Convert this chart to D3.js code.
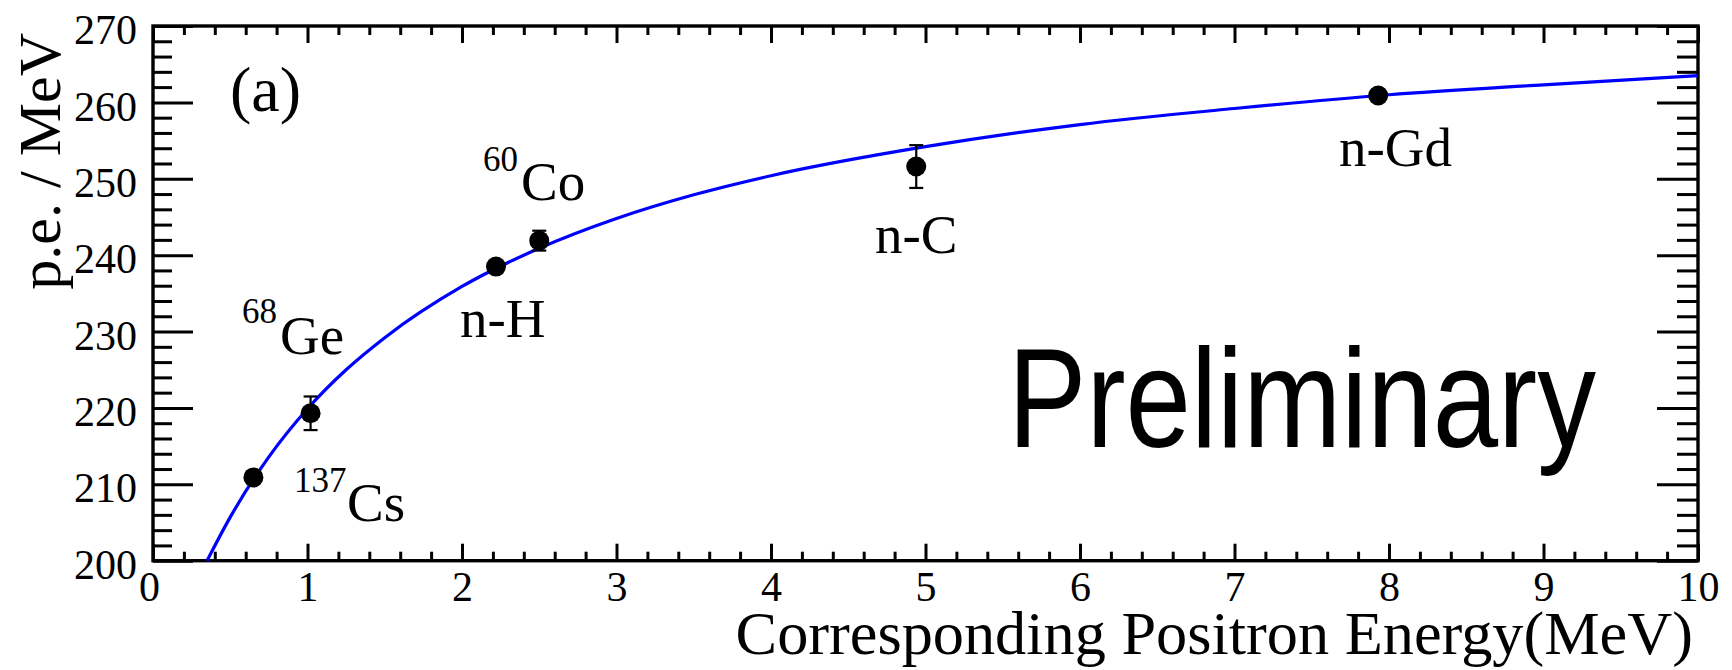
<!DOCTYPE html>
<html>
<head>
<meta charset="utf-8">
<script src="https://cdn.jsdelivr.net/npm/d3@7"></script>
<style>
  html, body { margin: 0; padding: 0; background: #fff; }
  svg { display: block; }
</style>
</head>
<body>
<script>
// ---------------- data ----------------
const sourceNames = ["137Cs", "68Ge", "n-H", "60Co", "n-C", "n-Gd"];
const positronEnergy = [0.65, 1.02, 2.22, 2.50, 4.94, 7.93];
const pePerMeV = [210.9, 219.3, 238.5, 241.9, 251.6, 260.9];
const pePerMeVErr = [0.4, 2.2, 0.5, 1.3, 2.8, 0.5];

// fitted curve
const fitEnergy = [0.35, 0.5, 0.75, 1.0, 1.25, 1.5, 2.0, 2.5, 3.0, 3.5, 4.0, 5.0, 6.0, 7.0, 8.0, 9.0, 10.0];
const fitPe     = [200.0, 205.7, 213.6, 219.9, 225.0, 229.2, 235.9, 240.9, 244.8, 247.9, 250.4, 254.2, 257.1, 259.2, 261.0, 262.3, 263.5];

const xTickValues = [0, 1, 2, 3, 4, 5, 6, 7, 8, 9, 10];
const yTickValues = [200, 210, 220, 230, 240, 250, 260, 270];
const xTitle = "Corresponding Positron Energy(MeV)";
const yTitle = "p.e. / MeV";
const panelLabel = "(a)";
const watermark = "Preliminary";

// point labels: superscript (mass number) and main text
const labelSup  = ["137", "68", "", "60", "", ""];
const labelMain = ["Cs", "Ge", "n-H", "Co", "n-C", "n-Gd"];

// ---------------- layout ----------------
const W = 1732, H = 670;
const svg = d3.select("body").append("svg").attr("width", W).attr("height", H);
svg.append("rect").attr("width", W).attr("height", H).attr("fill", "#fff");

const x = d3.scaleLinear().domain([0, 10]).range([153, 1698]);
const y = d3.scaleLinear().domain([200, 270]).range([560.7, 26]);

const serif = "'Liberation Serif', 'Times New Roman', serif";
const tickFont = 42;

const minorX = d3.range(0, 10.001, 0.2).map(v => +v.toFixed(2)).filter(v => Math.abs(v - Math.round(v)) > 1e-6);
const minorY = d3.range(200, 270.001, 2).filter(v => v % 10 !== 0);

function clean(g) {
  g.select(".domain").remove();
  g.selectAll(".tick line").attr("stroke", "#000").attr("stroke-width", 3);
  g.selectAll(".tick text").attr("font-family", serif).attr("font-size", tickFont).attr("fill", "#000");
}

// bottom axis
svg.append("g").attr("transform", `translate(0,${y(200)})`)
  .call(d3.axisBottom(x).tickValues(xTickValues).tickSize(-17).tickSizeOuter(0).tickPadding(10.5).tickFormat(d3.format("d")))
  .call(clean)
  .call(g => g.selectAll(".tick text").filter(d => d === 0).attr("dx", -4));
svg.append("g").attr("transform", `translate(0,${y(200)})`)
  .call(d3.axisBottom(x).tickValues(minorX).tickSize(-9).tickSizeOuter(0).tickFormat(""))
  .call(clean);
// top axis
svg.append("g").attr("transform", `translate(0,${y(270)})`)
  .call(d3.axisTop(x).tickValues(xTickValues).tickSize(-17).tickSizeOuter(0).tickFormat(""))
  .call(clean);
svg.append("g").attr("transform", `translate(0,${y(270)})`)
  .call(d3.axisTop(x).tickValues(minorX).tickSize(-9).tickSizeOuter(0).tickFormat(""))
  .call(clean);
// left axis
svg.append("g").attr("transform", `translate(${x(0)},0)`)
  .call(d3.axisLeft(y).tickValues(yTickValues).tickSize(-40).tickSizeOuter(0).tickPadding(16).tickFormat(d3.format("d")))
  .call(clean)
  .call(g => g.selectAll(".tick text").attr("dy", "0.42em"));
svg.append("g").attr("transform", `translate(${x(0)},0)`)
  .call(d3.axisLeft(y).tickValues(minorY).tickSize(-19).tickSizeOuter(0).tickFormat(""))
  .call(clean);
// right axis
svg.append("g").attr("transform", `translate(${x(10)},0)`)
  .call(d3.axisRight(y).tickValues(yTickValues).tickSize(-41).tickSizeOuter(0).tickFormat(""))
  .call(clean);
svg.append("g").attr("transform", `translate(${x(10)},0)`)
  .call(d3.axisRight(y).tickValues(minorY).tickSize(-21).tickSizeOuter(0).tickFormat(""))
  .call(clean);

// frame
svg.append("rect")
  .attr("x", x(0)).attr("y", y(270))
  .attr("width", x(10) - x(0)).attr("height", y(200) - y(270))
  .attr("fill", "none").attr("stroke", "#000").attr("stroke-width", 3.4);

// fit curve
const fitData = fitEnergy.map((e, i) => [e, fitPe[i]]);
svg.append("path")
  .datum(fitData)
  .attr("fill", "none")
  .attr("stroke", "#0000ff")
  .attr("stroke-width", 3.2)
  .attr("d", d3.line().x(d => x(d[0])).y(d => y(d[1])).curve(d3.curveMonotoneX));

// data points with error bars
const pts = positronEnergy.map((e, i) => ({ e, v: pePerMeV[i], err: pePerMeVErr[i], name: sourceNames[i] }));
const eb = svg.append("g").attr("stroke", "#000").attr("stroke-width", 2.2);
pts.forEach(p => {
  const cx = x(p.e), y1 = y(p.v + p.err), y2 = y(p.v - p.err);
  eb.append("line").attr("x1", cx).attr("x2", cx).attr("y1", y1).attr("y2", y2);
  eb.append("line").attr("x1", cx - 7).attr("x2", cx + 7).attr("y1", y1).attr("y2", y1);
  eb.append("line").attr("x1", cx - 7).attr("x2", cx + 7).attr("y1", y2).attr("y2", y2);
});
svg.append("g").selectAll("circle").data(pts).join("circle")
  .attr("cx", d => x(d.e)).attr("cy", d => y(d.v)).attr("r", 10).attr("fill", "#000");

// label anchors in data coordinates (start, baseline)
const mainAt = [[1.256, 205.2], [0.822, 227.05], [1.987, 229.3], [2.382, 247.2], [4.673, 240.3], [7.676, 251.66]];
const supAt  = [[0.913, 209.02], [0.576, 231.1], null, [2.136, 251.0], null, null];

const labelG = svg.append("g").attr("font-family", serif).attr("fill", "#000");
labelMain.forEach((t, i) => {
  labelG.append("text").attr("x", x(mainAt[i][0])).attr("y", y(mainAt[i][1]))
    .attr("font-size", 55).text(t);
});
labelSup.forEach((t, i) => {
  if (!t) return;
  labelG.append("text").attr("x", x(supAt[i][0])).attr("y", y(supAt[i][1]))
    .attr("font-size", 35).text(t);
});

// panel label
svg.append("text").attr("x", 230).attr("y", 111)
  .attr("font-family", serif).attr("font-size", 64).attr("fill", "#000").text(panelLabel);

// axis titles
svg.append("text").attr("x", 1693).attr("y", 654).attr("text-anchor", "end")
  .attr("font-family", serif).attr("font-size", 62.3).attr("fill", "#000").text(xTitle);
svg.append("text").attr("transform", "translate(60,33) rotate(-90)").attr("text-anchor", "end")
  .attr("font-family", serif).attr("font-size", 60).attr("fill", "#000").text(yTitle);

// watermark
svg.append("text").attr("x", 1008).attr("y", 447)
  .attr("font-family", "'Liberation Sans', Arial, sans-serif").attr("font-size", 141)
  .attr("textLength", 588).attr("lengthAdjust", "spacingAndGlyphs")
  .attr("fill", "#000").text(watermark);
</script>
</body>
</html>
